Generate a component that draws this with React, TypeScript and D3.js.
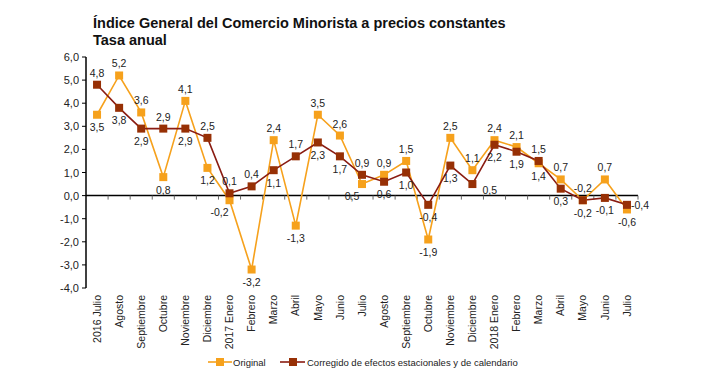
import React from 'react';
import { scaleBand, scaleLinear, line, range } from 'd3';

const months = [
  '2016 Julio', 'Agosto', 'Septiembre', 'Octubre', 'Noviembre', 'Diciembre',
  '2017 Enero', 'Febrero', 'Marzo', 'Abril', 'Mayo', 'Junio', 'Julio',
  'Agosto', 'Septiembre', 'Octubre', 'Noviembre', 'Diciembre',
  '2018 Enero', 'Febrero', 'Marzo', 'Abril', 'Mayo', 'Junio', 'Julio',
];

const original = [
  3.5, 5.2, 3.6, 0.8, 4.1, 1.2, -0.2, -3.2, 2.4, -1.3, 3.5, 2.6, 0.5,
  0.9, 1.5, -1.9, 2.5, 1.1, 2.4, 2.1, 1.4, 0.7, -0.2, 0.7, -0.6,
];

const corregido = [
  4.8, 3.8, 2.9, 2.9, 2.9, 2.5, 0.1, 0.4, 1.1, 1.7, 2.3, 1.7, 0.9,
  0.6, 1.0, -0.4, 1.3, 0.5, 2.2, 1.9, 1.5, 0.3, -0.2, -0.1, -0.4,
];

// where each value label sits relative to its marker:
// a = above, b = below, bl = below left, br = below right, r = right
const originalLabelSide = [
  'b', 'a', 'a', 'b', 'a', 'b', 'bl', 'b', 'a', 'b', 'a', 'a', 'bl',
  'a', 'a', 'b', 'a', 'a', 'a', 'a', 'b', 'a', 'a', 'a', 'b',
];
const corregidoLabelSide = [
  'a', 'b', 'b', 'a', 'b', 'a', 'a', 'a', 'b', 'a', 'b', 'b', 'a',
  'b', 'b', 'b', 'b', 'br', 'b', 'b', 'a', 'b', 'b', 'b', 'r',
];

const yTicks = range(-4, 6.01, 1);

const seriesNames = ['Original', 'Corregido de efectos estacionales y de calendario'];

const ORANGE = '#F6A11C';
const DARK_LINE = '#8A1C12';
const DARK_MARK = '#973005';

const W = 720;
const H = 387;
const margin = { left: 86, right: 82, top: 57, bottom: 99 };

const fmt = (v: number) => v.toFixed(1).replace('.', ',');

const App: React.FC = () => {
  const x = scaleBand<number>()
    .domain(months.map((_, i) => i))
    .range([margin.left, W - margin.right]);
  const y = scaleLinear().domain([-4, 6]).range([H - margin.bottom, margin.top]);
  const cx = (i: number) => (x(i) ?? 0) + x.bandwidth() / 2;

  const path = line<number>().x((_, i) => cx(i)).y(d => y(d));

  const labelPos = (i: number, v: number, side: string) => {
    const px = cx(i);
    const py = y(v);
    switch (side) {
      case 'a': return { tx: px, ty: py - 8, anchor: 'middle' };
      case 'r': return { tx: px + 4, ty: py + 4, anchor: 'start' };
      case 'br': return { tx: px + 10, ty: py + 10, anchor: 'start' };
      case 'bl': return { tx: px - 10, ty: py + 16, anchor: 'middle' };
      default: return { tx: px, ty: py + 16.5, anchor: 'middle' };
    }
  };

  const font = 'Liberation Sans, Arial, sans-serif';

  return (
    <svg width={W} height={H} style={{ position: 'absolute', left: 0, top: 0 }} fontFamily={font}>
      <rect width={W} height={H} fill="#fff" />
      <text x={93} y={28} fontSize={14.5} fontWeight="bold" fill="#111">
        Índice General del Comercio Minorista a precios constantes
      </text>
      <text x={93} y={45} fontSize={14.5} fontWeight="bold" fill="#111">
        Tasa anual
      </text>

      {/* y axis */}
      <line x1={margin.left} x2={margin.left} y1={y(6)} y2={y(-4)} stroke="#000" strokeWidth={1.5} />
      {yTicks.map(t => (
        <g key={t}>
          <line x1={margin.left - 4} x2={margin.left} y1={y(t)} y2={y(t)} stroke="#000" />
          <text x={79} y={y(t) + 4} textAnchor="end" fontSize={11} fill="#222">
            {fmt(t)}
          </text>
        </g>
      ))}

      {/* zero line with category ticks */}
      <line x1={margin.left} x2={W - margin.right} y1={y(0)} y2={y(0)} stroke="#000" strokeWidth={1.5} />
      {months.map((_, i) => (
        <line key={i} x1={(x(i) ?? 0) + x.bandwidth()} x2={(x(i) ?? 0) + x.bandwidth()}
          y1={y(0)} y2={y(0) + 4} stroke="#666" />
      ))}

      {/* category labels */}
      {months.map((m, i) => (
        <text key={i} transform={`translate(${cx(i)},295) rotate(-90)`} textAnchor="end"
          dy="0.35em" fontSize={10.5} fill="#222">
          {m}
        </text>
      ))}

      {/* series */}
      <path d={path(original) ?? ''} fill="none" stroke={ORANGE} strokeWidth={1.6} />
      <path d={path(corregido) ?? ''} fill="none" stroke={DARK_LINE} strokeWidth={1.6} />
      {original.map((v, i) => (
        <rect key={i} x={cx(i) - 4} y={y(v) - 4} width={8} height={8} fill={ORANGE} />
      ))}
      {corregido.map((v, i) => (
        <rect key={i} x={cx(i) - 4} y={y(v) - 4} width={8} height={8} fill={DARK_MARK} />
      ))}

      {/* value labels */}
      {original.map((v, i) => {
        const p = labelPos(i, v, originalLabelSide[i]);
        return (
          <text key={i} x={p.tx} y={p.ty} textAnchor={p.anchor} fontSize={10.5} fill="#222">
            {fmt(v)}
          </text>
        );
      })}
      {corregido.map((v, i) => {
        const p = labelPos(i, v, corregidoLabelSide[i]);
        return (
          <text key={i} x={p.tx} y={p.ty} textAnchor={p.anchor} fontSize={10.5} fill="#222">
            {fmt(v)}
          </text>
        );
      })}

      {/* legend */}
      <g transform="translate(208,362)">
        <line x1={0} x2={24} y1={0} y2={0} stroke={ORANGE} strokeWidth={1.6} />
        <rect x={8} y={-4} width={8} height={8} fill={ORANGE} />
        <text x={25} y={3.5} fontSize={9.5} fill="#222">{seriesNames[0]}</text>
        <line x1={72} x2={97} y1={0} y2={0} stroke={DARK_LINE} strokeWidth={1.6} />
        <rect x={81} y={-4} width={8} height={8} fill={DARK_MARK} />
        <text x={99} y={3.5} fontSize={9.5} fill="#222">{seriesNames[1]}</text>
      </g>
    </svg>
  );
};

export default App;
